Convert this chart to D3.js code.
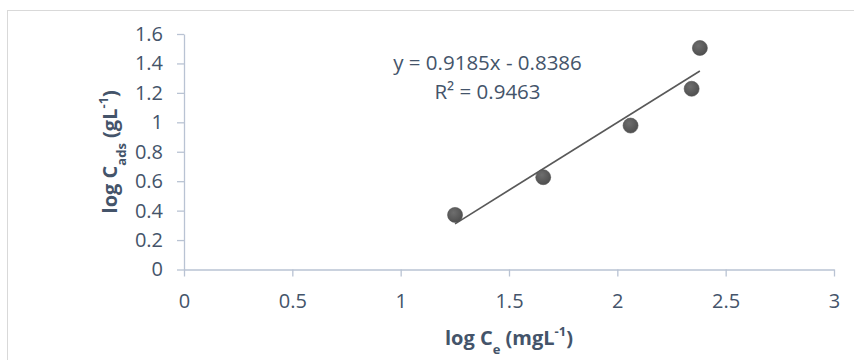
<!DOCTYPE html>
<html>
<head>
<meta charset="utf-8">
<script src="https://cdn.jsdelivr.net/npm/d3@7"></script>
<style>
  html, body { margin: 0; padding: 0; background: #fff; }
  #chart { width: 854px; height: 360px; overflow: hidden; }
</style>
</head>
<body>
<div id="chart"></div>
<script>
// log Ce vs log Cads (Freundlich-style plot)
const logCe = [1.251, 1.658, 2.061, 2.343, 2.381];
const logCads = [0.371, 0.627, 0.978, 1.228, 1.505];

// linear trend shown on the chart
const trendSlope = 0.9185;
const trendIntercept = -0.8386;
const trendLabel = ["y = 0.9185x - 0.8386", "R² = 0.9463"];

const xTicks = [0, 0.5, 1, 1.5, 2, 2.5, 3];
const yTicks = [0, 0.2, 0.4, 0.6, 0.8, 1, 1.2, 1.4, 1.6];

(function draw() {
  const W = 854, H = 360;
  const margin = { top: 34, right: 20, bottom: 90.5, left: 184 };
  const textColor = "#44546a";
  const axisColor = "#b9c3d3";
  const font = "'Open Sans', sans-serif";

  const svg = d3.select("#chart").append("svg")
    .attr("width", W)
    .attr("height", H)
    .style("font-family", font);

  /* ── gradient for the markers ── */
  const grad = svg.append("defs").append("radialGradient")
    .attr("id", "dot")
    .attr("cx", "40%").attr("cy", "35%").attr("r", "65%");
  grad.append("stop").attr("offset", "0%").attr("stop-color", "#6e6e6e");
  grad.append("stop").attr("offset", "100%").attr("stop-color", "#4f4f4f");

  /* ── chart frame ── */
  svg.append("rect")
    .attr("x", 7.5).attr("y", 10.5)
    .attr("width", 860).attr("height", 370)
    .attr("fill", "none")
    .attr("stroke", "#d9d9d9")
    .attr("stroke-width", 1);

  const x = d3.scaleLinear().domain([0, 3]).range([margin.left, W - margin.right]);
  const y = d3.scaleLinear().domain([0, 1.6]).range([H - margin.bottom, margin.top]);

  /* ── axes ── */
  const xAxis = svg.append("g")
    .attr("transform", `translate(0,${y(0)})`)
    .call(d3.axisBottom(x).tickValues(xTicks).tickFormat(d3.format("")).tickSize(7).tickPadding(17).tickSizeOuter(0));

  const yAxis = svg.append("g")
    .attr("transform", `translate(${x(0)},0)`)
    .call(d3.axisLeft(y).tickValues(yTicks).tickFormat(d3.format("")).tickSize(7).tickPadding(14).tickSizeOuter(0));

  [xAxis, yAxis].forEach(g => {
    g.selectAll("path, line").attr("stroke", axisColor).attr("stroke-width", 1.3);
    g.selectAll("text")
      .attr("fill", textColor)
      .style("font-size", "20px")
      .style("font-family", font);
  });

  /* ── trendline ── */
  const [xMin, xMax] = d3.extent(logCe);
  const trend = [xMin, xMax].map(v => [v, trendSlope * v + trendIntercept]);
  svg.append("path")
    .datum(trend)
    .attr("d", d3.line().x(d => x(d[0])).y(d => y(d[1])))
    .attr("stroke", "#595959")
    .attr("stroke-width", 1.6)
    .attr("fill", "none");

  /* ── markers ── */
  svg.selectAll("circle.pt")
    .data(logCe.map((v, i) => [v, logCads[i]]))
    .enter().append("circle")
    .attr("class", "pt")
    .attr("cx", d => x(d[0]))
    .attr("cy", d => y(d[1]))
    .attr("r", 7.5)
    .attr("fill", "url(#dot)")
    .attr("stroke", "#505050")
    .attr("stroke-width", 0.6);

  /* ── equation label ── */
  const eq = svg.append("text")
    .attr("fill", textColor)
    .attr("text-anchor", "middle")
    .style("font-size", "20.5px");
  eq.append("tspan").attr("x", 487.5).attr("y", 70).text(trendLabel[0]);
  eq.append("tspan").attr("x", 487.5).attr("y", 98.5).text(trendLabel[1]);

  /* ── axis titles ── */
  const xt = svg.append("text")
    .attr("x", (x(0) + x(3)) / 2)
    .attr("y", 345)
    .attr("text-anchor", "middle")
    .attr("fill", textColor)
    .style("font-size", "20px")
    .style("font-weight", "bold");
  xt.append("tspan").text("log C");
  xt.append("tspan").attr("baseline-shift", "sub").style("font-size", "13px").text("e");
  xt.append("tspan").text(" (mgL");
  xt.append("tspan").attr("baseline-shift", "super").style("font-size", "13px").text("-1");
  xt.append("tspan").text(")");

  const yt = svg.append("text")
    .attr("transform", `translate(117,${(y(0) + y(1.6)) / 2}) rotate(-90)`)
    .attr("text-anchor", "middle")
    .attr("fill", textColor)
    .style("font-size", "20px")
    .style("font-weight", "bold");
  yt.append("tspan").text("log C");
  yt.append("tspan").attr("baseline-shift", "sub").style("font-size", "13px").text("ads");
  yt.append("tspan").text(" (gL");
  yt.append("tspan").attr("baseline-shift", "super").style("font-size", "13px").text("-1");
  yt.append("tspan").text(")");
})();
</script>
</body>
</html>
